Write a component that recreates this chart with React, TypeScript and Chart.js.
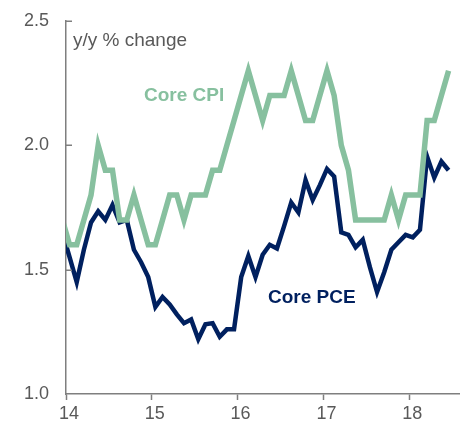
import React, { useEffect, useRef } from "react";
import { Chart, registerables } from "chart.js";

Chart.register(...registerables);

// Monthly observations, Dec 2013 .. Jun 2018 (points plotted at mid-month)
const months: string[] = [
  "2013-12",
  "2014-01", "2014-02", "2014-03", "2014-04", "2014-05", "2014-06",
  "2014-07", "2014-08", "2014-09", "2014-10", "2014-11", "2014-12",
  "2015-01", "2015-02", "2015-03", "2015-04", "2015-05", "2015-06",
  "2015-07", "2015-08", "2015-09", "2015-10", "2015-11", "2015-12",
  "2016-01", "2016-02", "2016-03", "2016-04", "2016-05", "2016-06",
  "2016-07", "2016-08", "2016-09", "2016-10", "2016-11", "2016-12",
  "2017-01", "2017-02", "2017-03", "2017-04", "2017-05", "2017-06",
  "2017-07", "2017-08", "2017-09", "2017-10", "2017-11", "2017-12",
  "2018-01", "2018-02", "2018-03", "2018-04", "2018-05", "2018-06",
];

const coreCPI: number[] = [
  1.7,
  1.6, 1.6, 1.7, 1.8, 2.0, 1.9, 1.9, 1.7, 1.7, 1.8, 1.7, 1.6,
  1.6, 1.7, 1.8, 1.8, 1.7, 1.8, 1.8, 1.8, 1.9, 1.9, 2.0, 2.1,
  2.2, 2.3, 2.2, 2.1, 2.2, 2.2, 2.2, 2.3, 2.2, 2.1, 2.1, 2.2,
  2.3, 2.2, 2.0, 1.9, 1.7, 1.7, 1.7, 1.7, 1.7, 1.8, 1.7, 1.8,
  1.8, 1.8, 2.1, 2.1, 2.2, 2.3,
];

const corePCE: number[] = [
  1.65,
  1.55, 1.45, 1.58, 1.69, 1.735, 1.70, 1.76, 1.69, 1.70, 1.58, 1.53, 1.47,
  1.35, 1.39, 1.36, 1.32, 1.285, 1.30, 1.22, 1.28, 1.285, 1.23, 1.26, 1.26,
  1.47, 1.555, 1.47, 1.56, 1.60, 1.585, 1.675, 1.77, 1.73, 1.86, 1.78, 1.84,
  1.905, 1.875, 1.65, 1.64, 1.59, 1.62, 1.51, 1.41, 1.49, 1.58, 1.61, 1.64,
  1.63, 1.66, 1.955, 1.87, 1.935, 1.90,
];

const xTickValues: number[] = [14, 15, 16, 17, 18];
const yTickValues: number[] = [1.0, 1.5, 2.0, 2.5];

const GREEN = "#87C09F";
const NAVY = "#00205F";
const AXIS = "#7F7F7F";
const TEXT = "#595959";
const FONT = "'Liberation Sans', Arial, Helvetica, sans-serif";

// month "YYYY-MM" -> two-digit-year decimal at mid-month
const toX = (m: string) => {
  const [yy, mm] = m.split("-").map(Number);
  return yy - 2000 + (mm - 0.5) / 12;
};

const toPoints = (vals: number[]) => vals.map((v, i) => ({ x: toX(months[i]), y: v }));

const overlayPlugin = {
  id: "overlay",
  afterDraw(chart: any) {
    const { ctx, chartArea, scales } = chart;
    const y = scales.y;
    ctx.save();
    // inward y-axis tick marks
    ctx.strokeStyle = AXIS;
    ctx.lineWidth = 1.5;
    for (const v of yTickValues) {
      if (v === 1.0) continue;
      const py = Math.round(y.getPixelForValue(v)) + 0.25;
      ctx.beginPath();
      ctx.moveTo(chartArea.left, py);
      ctx.lineTo(chartArea.left + 6, py);
      ctx.stroke();
    }
    // texts
    ctx.textBaseline = "middle";
    ctx.textAlign = "left";
    ctx.fillStyle = TEXT;
    ctx.font = `19px ${FONT}`;
    ctx.fillText("y/y % change", 73, 41);
    ctx.font = `bold 19px ${FONT}`;
    ctx.fillStyle = GREEN;
    ctx.fillText("Core CPI", 144, 96);
    ctx.fillStyle = NAVY;
    ctx.fillText("Core PCE", 268, 298);
    ctx.restore();
  },
};

export default function App() {
  const canvasRef = useRef<HTMLCanvasElement | null>(null);

  useEffect(() => {
    if (!canvasRef.current) return;
    const chart = new Chart(canvasRef.current, {
      type: "line",
      data: {
        datasets: [
          {
            label: "Core CPI",
            data: toPoints(coreCPI),
            borderColor: GREEN,
            backgroundColor: GREEN,
            borderWidth: 5.5,
            pointRadius: 0,
            tension: 0,
            clip: 0,
          },
          {
            label: "Core PCE",
            data: toPoints(corePCE),
            borderColor: NAVY,
            backgroundColor: NAVY,
            borderWidth: 4.5,
            pointRadius: 0,
            tension: 0,
            clip: 0,
          },
        ],
      },
      options: {
        animation: false,
        responsive: true,
        maintainAspectRatio: false,
        layout: { padding: { top: 21, right: 5, left: 0, bottom: 0 } },
        plugins: {
          legend: { display: false },
          tooltip: { enabled: false },
          title: { display: false },
        },
        scales: {
          x: {
            type: "linear",
            min: 14,
            max: 18.58,
            afterBuildTicks: (s: any) => {
              s.ticks = xTickValues.map((v) => ({ value: v }));
            },
            afterFit: (s: any) => {
              s.height = 31;
              s.paddingLeft = 0;
              s.paddingRight = 0;
            },
            grid: {
              display: true,
              drawOnChartArea: false,
              drawTicks: true,
              tickLength: 6,
              color: AXIS,
              tickColor: AXIS,
              tickWidth: 1.5,
            },
            border: { display: true, color: AXIS, width: 1.5 },
            ticks: {
              padding: 3,
              labelOffset: 3,
              color: TEXT,
              font: { family: FONT, size: 18 },
              maxRotation: 0,
              callback: (v: any) => String(v),
            },
          },
          y: {
            type: "linear",
            min: 1.0,
            max: 2.5,
            afterBuildTicks: (s: any) => {
              s.ticks = yTickValues.map((v) => ({ value: v }));
            },
            afterFit: (s: any) => {
              s.width = 66;
              s.paddingTop = 0;
              s.paddingBottom = 0;
            },
            grid: { display: false, drawTicks: false },
            border: { display: true, color: AXIS, width: 1.5 },
            ticks: {
              padding: 17,
              color: TEXT,
              font: { family: FONT, size: 18 },
              callback: (v: any) => Number(v).toFixed(1),
            },
          },
        },
      },
      plugins: [overlayPlugin],
    });
    return () => chart.destroy();
  }, []);

  return (
    <div style={{ position: "absolute", left: 0, top: 0, width: 464, height: 425 }}>
      <canvas ref={canvasRef} />
    </div>
  );
}
